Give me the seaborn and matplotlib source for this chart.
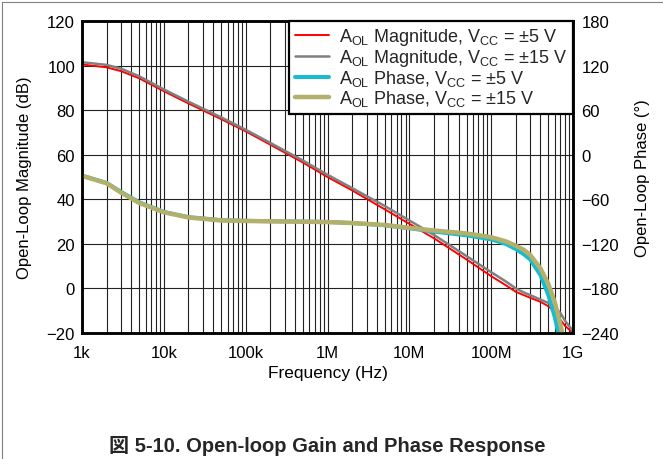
import matplotlib
matplotlib.use("Agg")
import matplotlib.pyplot as plt
import matplotlib.ticker as mticker
from matplotlib.lines import Line2D
import numpy as np
import pandas as pd
import seaborn as sns

FREQ_HZ = [1e3, 2e3, 3e3, 5e3, 1e4, 2e4, 5e4, 1e5, 2e5, 5e5, 1e6, 2e6, 5e6, 1e7,
           2e7, 5e7, 1e8, 1.5e8, 2e8, 2.5e8, 3e8, 4e8, 5e8, 6e8, 7e8, 8e8, 9e8, 1e9]
MAG_5V = [100.5, 99.2, 97.5, 94.3, 88.5, 83.0, 76.0, 70.5, 64.5, 56.5, 50.0, 44.0, 35.5, 29.0,
          22.5, 13.0, 5.5, 1.5, -1.5, -3.0, -4.2, -6.0, -8.0, -10.5, -14.0, -16.8, -18.5, -20.0]
MAG_15V = [101.5, 100.3, 98.6, 95.2, 89.3, 83.8, 76.8, 71.2, 65.3, 57.4, 51.0, 45.0, 37.0, 30.5,
           24.0, 14.5, 7.3, 3.2, 0.0, -1.8, -3.0, -5.0, -6.5, -8.5, -11.0, -14.5, -17.0, -19.0]
PHASE_5V = [-28, -38, -50, -64, -77, -84, -88, -89, -89.5, -90, -90.5, -92, -95, -99,
            -103.5, -108.5, -114, -120, -127, -134, -141, -162, -189, -219, -252, None, None, None]
PHASE_15V = [-28.5, -38.5, -51, -65, -77.5, -84.5, -88.5, -89.2, -89.7, -90.2, -90.7, -92, -94.5, -98.5,
             -102, -106, -111, -116.5, -122.5, -128, -135, -153, -174, -199, -228, -258, None, None]

XTICKS = [1e3, 1e4, 1e5, 1e6, 1e7, 1e8, 1e9]
XTICKLABELS = ["1k", "10k", "100k", "1M", "10M", "100M", "1G"]
MAG_TICKS = [-20, 0, 20, 40, 60, 80, 100, 120]
PHASE_TICKS = [-240, -180, -120, -60, 0, 60, 120, 180]

LABELS = [
    r"A$_{\mathrm{OL}}$ Magnitude, V$_{\mathrm{CC}}$ = ±5 V",
    r"A$_{\mathrm{OL}}$ Magnitude, V$_{\mathrm{CC}}$ = ±15 V",
    r"A$_{\mathrm{OL}}$ Phase, V$_{\mathrm{CC}}$ = ±5 V",
    r"A$_{\mathrm{OL}}$ Phase, V$_{\mathrm{CC}}$ = ±15 V",
]
COLORS = ["#ff0000", "#808080", "#19bccf", "#b3b06b"]
WIDTHS = [1.4, 1.8, 2.9, 3.2]

sns.set_theme(style="white")
plt.rcParams["font.family"] = ["Liberation Sans", "DejaVu Sans"]
plt.rcParams["mathtext.fontset"] = "custom"
plt.rcParams["mathtext.rm"] = "Liberation Sans"
plt.rcParams["mathtext.it"] = "Liberation Sans:italic"
plt.rcParams["mathtext.bf"] = "Liberation Sans:bold"

df = pd.DataFrame({
    "freq": FREQ_HZ,
    "mag5": MAG_5V,
    "mag15": MAG_15V,
    "ph5": pd.to_numeric(pd.Series(PHASE_5V), errors="coerce"),
    "ph15": pd.to_numeric(pd.Series(PHASE_15V), errors="coerce"),
})

fig = plt.figure(figsize=(6.63, 4.60), dpi=100)
ax = fig.add_axes([82 / 663, 1 - 334 / 460, 491 / 663, 312 / 460])
ax2 = ax.twinx()

sns.lineplot(data=df, x="freq", y="mag5", ax=ax, color=COLORS[0], lw=WIDTHS[0])
sns.lineplot(data=df, x="freq", y="mag15", ax=ax, color=COLORS[1], lw=WIDTHS[1])
sns.lineplot(data=df.dropna(subset=["ph5"]), x="freq", y="ph5", ax=ax2, color=COLORS[2], lw=WIDTHS[2])
sns.lineplot(data=df.dropna(subset=["ph15"]), x="freq", y="ph15", ax=ax2, color=COLORS[3], lw=WIDTHS[3])

for a in (ax, ax2):
    a.set_xscale("log")
    a.set_xlim(1e3, 1e9)
    for s in a.spines.values():
        s.set_color("black")
        s.set_linewidth(1.8)
ax.set_ylim(-20, 120)
ax2.set_ylim(-240, 180)
ax.set_yticks(MAG_TICKS)
ax2.set_yticks(PHASE_TICKS)
ax.xaxis.set_major_locator(mticker.FixedLocator(XTICKS))
ax.xaxis.set_major_formatter(mticker.FixedFormatter(XTICKLABELS))
ax.xaxis.set_minor_locator(mticker.LogLocator(base=10, subs=np.arange(2, 10), numticks=20))
ax.xaxis.set_minor_formatter(mticker.NullFormatter())

ax.grid(True, which="both", axis="x", color="#222222", lw=0.8)
ax.grid(True, which="major", axis="y", color="#222222", lw=0.8)
ax2.grid(False)

ax.tick_params(axis="x", which="both", length=0, pad=9, labelsize=12, colors="black")
ax.tick_params(axis="y", length=0, pad=5, labelsize=12, colors="black")
ax2.tick_params(axis="y", length=0, pad=6, labelsize=12, colors="black")

ax.set_xlabel("Frequency (Hz)", fontsize=12.5, color="black")
ax.set_ylabel("Open-Loop Magnitude (dB)", fontsize=12, color="black")
ax2.set_ylabel("Open-Loop Phase (°)", fontsize=12, color="black")
ax.xaxis.set_label_coords(0.5, -0.103)
ax.yaxis.set_label_coords(-0.101, 0.5)
ax2.yaxis.set_label_coords(1.126, 0.5)

handles = [Line2D([], [], color=c, lw=w) for c, w in zip(COLORS, WIDTHS)]
leg = ax2.legend(handles, LABELS, loc="upper right", borderaxespad=0, fontsize=13,
                 frameon=True, fancybox=False, framealpha=1, edgecolor="black",
                 handlelength=1.9, handletextpad=0.55, labelspacing=0.0, borderpad=0.3)
leg.get_frame().set_linewidth(1.6)

# gray page border (top and left edges visible)
fig.add_artist(Line2D([0.0023, 1.0], [0.9935, 0.9935], color="#808080", lw=0.8))
fig.add_artist(Line2D([0.0023, 0.0023], [0.0, 0.9935], color="#808080", lw=0.8))

fig.text(0.493, 1 - 446 / 460, "図 5-10. Open-loop Gain and Phase Response",
         ha="center", va="center", fontsize=14.5, fontweight="bold",
         family=["Liberation Sans", "Noto Sans CJK JP"])

fig.savefig("out.png", dpi=100)
